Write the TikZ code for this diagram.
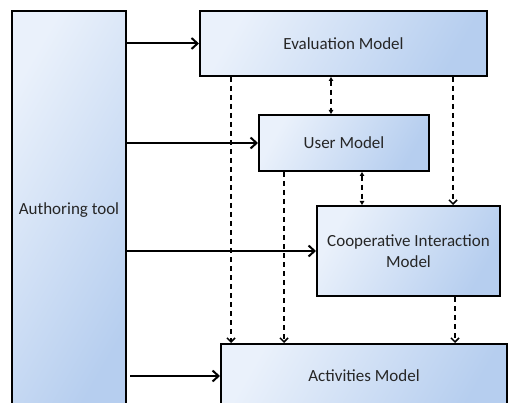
\documentclass[tikz,border=0pt]{standalone}
\usepackage{fontspec}
\setmainfont{Carlito}
\usetikzlibrary{arrows.meta,positioning}
\definecolor{boxlight}{HTML}{EAF1FB}
\definecolor{boxdark}{HTML}{B6CEEF}
\definecolor{txt}{HTML}{262626}
\tikzset{
  x=1pt,y=-1pt,
  model/.style={draw=black,line width=2pt,left color=boxlight,right color=boxdark,
    shading angle=60,inner sep=0pt,anchor=north west,
    font=\fontsize{17}{21}\selectfont,text=txt,align=center},
  feed/.style={line width=2pt,-{Straight Barb[length=6pt,width=11pt,line width=2pt]}},
  dep/.style={line width=1.8pt,dash pattern=on 5pt off 4pt,
    -{Straight Barb[length=4pt,width=8pt,line width=1.5pt]}},
  link/.style={line width=1.8pt,dash pattern=on 5pt off 4pt,
    {Triangle[length=4pt,width=4.5pt]}-{Triangle[length=4pt,width=4.5pt]}},
}
\begin{document}
\begin{tikzpicture}
\useasboundingbox[fill=white] (0,0) rectangle (508,403);

% the five models
\node[model,minimum width=114pt,minimum height=398pt] (auth) at (11,10) {Authoring tool};
\node[model,minimum width=287pt,minimum height=65pt] (eval) at (199,10) {Evaluation Model};
\node[model,minimum width=170pt,minimum height=56pt] (user) at (258,114) {User Model};
\node[model,minimum width=183pt,minimum height=90pt] (coop) at (316,205) {Cooperative Interaction\\Model};
\node[model,minimum width=286pt,minimum height=64pt] (act) at (220,343) {Activities Model};

% authoring tool feeds every model
\draw[feed] (auth.east |- eval.west) -- (eval.west);
\draw[feed] (auth.east |- user.west) -- (user.west);
\draw[feed] (auth.east |- coop.west) -- (coop.west);
\draw[feed] ([xshift=3pt]auth.east |- act.west) -- (act.west);

% dependencies between models
\draw[dep] ([xshift=32pt]eval.south west) -- ([xshift=32pt]eval.south west |- act.north);
\draw[dep] ([xshift=26pt]user.south west) -- ([xshift=26pt]user.south west |- act.north);
\draw[dep] ([xshift=254pt]eval.south west) -- ([xshift=254pt]eval.south west |- coop.north);
\draw[dep] ([xshift=139pt]coop.south west) -- ([xshift=139pt]coop.south west |- act.north);

% two-way links
\draw[link] ([xshift=132pt]eval.south west) -- ([xshift=132pt]eval.south west |- user.north);
\draw[link] ([xshift=104pt]user.south west) -- ([xshift=104pt]user.south west |- coop.north);
\end{tikzpicture}
\end{document}
